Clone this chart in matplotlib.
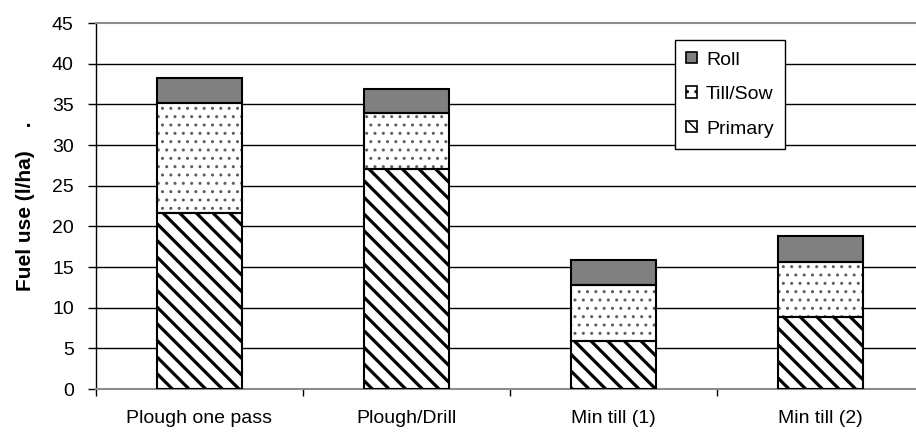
import matplotlib
matplotlib.use('Agg')
import matplotlib.pyplot as plt
import matplotlib.patches as mpatches
import numpy as np

plt.rcParams['font.family'] = ['Liberation Sans', 'DejaVu Sans']

###############################################################################
# Data
###############################################################################
CATEGORIES = ['Plough one pass', 'Plough/Drill', 'Min till (1)', 'Min till (2)']
PRIMARY = [21.6, 27.0, 5.9, 8.8]
TILL_SOW = [13.6, 6.9, 6.9, 6.8]
ROLL = [3.0, 3.0, 3.0, 3.2]
YTICKS = [0, 5, 10, 15, 20, 25, 30, 35, 40, 45]

###############################################################################
# Styles
###############################################################################
W, H, DPI = 916, 434, 100
BAR_W = 0.41
FS = 14
STYLE_PR = {'hatch': '\\\\', 'edge': 'black', 'hlw': 2.3}
STYLE_TS = {'hatch': '..', 'edge': '#5e5e5e', 'hlw': 1.0}
STYLE_RL = {'color': '#808080'}

fig = plt.figure(figsize=(W / DPI, H / DPI), dpi=DPI)
ax = fig.add_axes([96 / W, (H - 389) / H, 828 / W, 366 / H])

x = np.arange(len(CATEGORIES))
prim = np.array(PRIMARY)
till = np.array(TILL_SOW)
roll = np.array(ROLL)

# gridlines
for yv in YTICKS[1:-1]:
    ax.axhline(yv, color='black', lw=1.0, zorder=0)

with plt.rc_context({'hatch.linewidth': STYLE_PR['hlw']}):
    ax.bar(x, prim, BAR_W, color='white', edgecolor=STYLE_PR['edge'],
           hatch=STYLE_PR['hatch'], lw=0, zorder=2)
with plt.rc_context({'hatch.linewidth': STYLE_TS['hlw']}):
    ax.bar(x, till, BAR_W, bottom=prim, color='white',
           edgecolor=STYLE_TS['edge'], hatch=STYLE_TS['hatch'], lw=0, zorder=2)
ax.bar(x, roll, BAR_W, bottom=prim + till, color=STYLE_RL['color'],
       edgecolor='black', lw=1.5, zorder=3)
# outlines
ax.bar(x, prim, BAR_W, fill=False, edgecolor='black', lw=1.5, zorder=3)
ax.bar(x, till, BAR_W, bottom=prim, fill=False, edgecolor='black', lw=1.5,
       zorder=3)

ax.set_xlim(-0.5, len(CATEGORIES) - 0.5)
ax.set_ylim(0, 45)
ax.set_yticks(YTICKS)
ax.set_xticks(x)
ax.set_xticklabels(CATEGORIES)
ax.set_xticks(np.arange(len(CATEGORIES) + 1) - 0.5, minor=True)
ax.tick_params(axis='x', which='major', length=0, pad=15, labelsize=FS)
ax.tick_params(axis='x', which='minor', length=5, width=1, direction='out',
               color='black')
ax.tick_params(axis='y', length=6, width=1, direction='out', pad=10,
               labelsize=FS)

for s in ['top', 'bottom']:
    ax.spines[s].set_color('#8c8c8c')
    ax.spines[s].set_linewidth(1.5)
ax.spines['left'].set_color('black')
ax.spines['left'].set_linewidth(1.0)
ax.spines['right'].set_visible(False)

ax.set_ylabel('Fuel use (l/ha)    .', fontsize=15, fontweight='bold',
              labelpad=12)

# legend
with plt.rc_context({'hatch.linewidth': 1.5}):
    h_roll = mpatches.Patch(facecolor=STYLE_RL['color'], edgecolor='black',
                            lw=1.2, label='Roll')
    h_till = mpatches.Patch(facecolor='white', edgecolor='black',
                            hatch='..', lw=1.2, label='Till/Sow')
    h_prim = mpatches.Patch(facecolor='white', edgecolor='black',
                            hatch='\\\\\\', lw=1.2, label='Primary')
leg = ax.legend(handles=[h_roll, h_till, h_prim], loc='upper left',
                bbox_to_anchor=(0.699, 0.954), fontsize=FS, frameon=True,
                fancybox=False, framealpha=1, edgecolor='black',
                handlelength=0.55, handleheight=0.55, handletextpad=0.45,
                labelspacing=0.9, borderpad=0.6, borderaxespad=0)
leg.get_frame().set_linewidth(1.0)
leg.set_zorder(5)

fig.savefig('out.png', dpi=DPI, facecolor='white')
